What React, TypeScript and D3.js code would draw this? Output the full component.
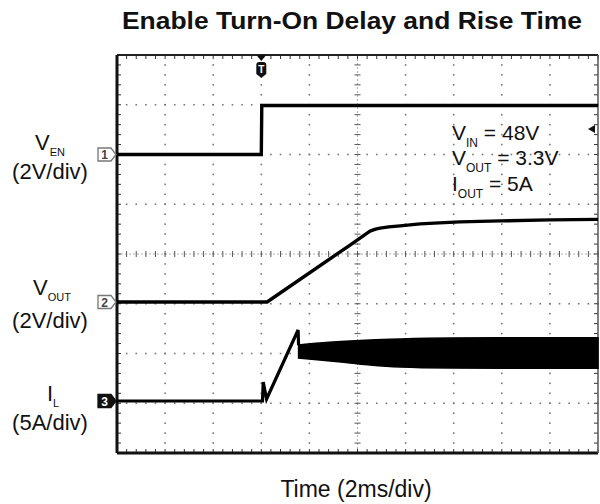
import React from 'react';
import * as d3 from 'd3';

// ---- data (time in ms, trigger at 0) ----
const venTime = [-6, 0, 0.02, 14];
const venVolts = [0, 0, 1.97, 1.97];

const voutTime = [-6, 0.24, 3.69, 4.52, 4.75, 4.94, 5.3, 5.77, 6.6, 7.4, 8.26, 9.93, 12.0, 14];
const voutVolts = [0, 0, 2.29, 2.85, 2.93, 2.97, 3.02, 3.06, 3.14, 3.18, 3.22, 3.26, 3.3, 3.32];

const ilTime = [-6, 0.05, 0.08, 0.22, 1.53, 1.55];
const ilAmps = [0, 0, 1.9, 0.2, 7.14, 5.6];

const bandTime = [1.55, 2.43, 3.69, 4.52, 5.77, 7.85, 10, 14];
const bandUpper = [5.63, 5.83, 6.03, 6.13, 6.23, 6.33, 6.35, 6.35];
const bandLower = [4.32, 4.12, 3.82, 3.62, 3.42, 3.32, 3.3, 3.3];

const channelNames = ['1', '2', '3'];
const channelOffsets = [2, -0.965, -2.955];
const channelScales = [2, 2, 5];

const labelMain = ['V', 'V', 'I'];
const labelSub = ['EN', 'OUT', 'L'];
const labelScale = ['(2V/div)', '(2V/div)', '(5A/div)'];

const insetMain = ['V', 'V', 'I'];
const insetSub = ['IN', 'OUT', 'OUT'];
const insetValue = [' = 48V', ' = 3.3V', ' = 5A'];

const titleText = 'Enable Turn-On Delay and Rise Time';
const xLabelText = 'Time (2ms/div)';

const timeDomain = [-6, 14];
const divDomain = [-4, 4];

export default function App() {
  const W = 600, H = 504;
  const left = 117, right = 598, top = 55, bottom = 453;
  const font = 'Liberation Sans, Arial, Helvetica, sans-serif';

  const x = d3.scaleLinear().domain(timeDomain).range([left, right]);
  const y = d3.scaleLinear().domain(divDomain).range([bottom, top]);
  const chY = (ch: number, v: number) => y(channelOffsets[ch] + v / channelScales[ch]);

  const xDivs = d3.range(-6, 14.001, 2);
  const yDivs = d3.range(-4, 4.001, 1);
  const xMinor = d3.range(-6, 14.001, 0.4);
  const yMinor = d3.range(-4, 4.001, 0.2);

  const line = d3.line<[number, number]>().x(d => d[0]).y(d => d[1]);
  const venPath = line(venTime.map((t, i) => [x(t), chY(0, venVolts[i])]));
  const voutPath = line(voutTime.map((t, i) => [x(t), chY(1, voutVolts[i])]));
  const ilPath = line(ilTime.map((t, i) => [x(t), chY(2, ilAmps[i])]));
  const bandPath = d3.area<number>()
    .x((t) => x(t))
    .y0((_, i) => chY(2, bandLower[i]))
    .y1((_, i) => chY(2, bandUpper[i]))
    .curve(d3.curveMonotoneX)(bandTime);

  const xc = x(4); // center vertical
  const yc = y(0); // center horizontal
  const tx = x(0);

  const gridDots: JSX.Element[] = [];
  yDivs.forEach((d, i) => {
    if (d === -4 || d === 4 || d === 0) return;
    xMinor.forEach((t, j) => {
      gridDots.push(<rect key={`h${i}-${j}`} x={x(t) - 0.8} y={y(d) - 0.8} width={1.6} height={1.6} fill="#777" />);
    });
  });
  xDivs.forEach((t, i) => {
    if (t === -6 || t === 14 || t === 4) return;
    yMinor.forEach((d, j) => {
      gridDots.push(<rect key={`v${i}-${j}`} x={x(t) - 0.8} y={y(d) - 0.8} width={1.6} height={1.6} fill="#777" />);
    });
  });

  const ticks: JSX.Element[] = [];
  xMinor.forEach((t, j) => {
    const px = x(t);
    ticks.push(<line key={`ct${j}`} x1={px} x2={px} y1={yc - 3} y2={yc + 3} stroke="#555" strokeWidth={1} />);
    ticks.push(<line key={`tt${j}`} x1={px} x2={px} y1={top} y2={top + 4} stroke="#333" strokeWidth={1} />);
    ticks.push(<line key={`bt${j}`} x1={px} x2={px} y1={bottom} y2={bottom - 4} stroke="#333" strokeWidth={1} />);
  });
  yMinor.forEach((d, j) => {
    const py = y(d);
    ticks.push(<line key={`cv${j}`} x1={xc - 3} x2={xc + 3} y1={py} y2={py} stroke="#555" strokeWidth={1} />);
    ticks.push(<line key={`lt${j}`} x1={left} x2={left + 4} y1={py} y2={py} stroke="#333" strokeWidth={1} />);
    ticks.push(<line key={`rt${j}`} x1={right} x2={right - 4} y1={py} y2={py} stroke="#333" strokeWidth={1} />);
  });

  const labelBaselines = [150, 295, 401];
  const scaleBaselines = [179, 328, 430];
  const labelCenters = [50, 52, 53];
  const insetBaselines = [140, 165, 191];

  const trigY = 129;

  return (
    <svg width={W} height={H} style={{ position: 'absolute', left: 0, top: 0, background: '#fff' }}
      fontFamily={font}>
      <rect x={0} y={0} width={W} height={H} fill="#fff" />
      <text x={352} y={29} textAnchor="middle" fontWeight="bold" fontSize={23}
        textLength={460} lengthAdjust="spacingAndGlyphs" fill="#111">{titleText}</text>

      {gridDots}
      <line x1={left} x2={right} y1={yc} y2={yc} stroke="#999" strokeWidth={0.8} strokeDasharray="2,2" />
      <line x1={xc} x2={xc} y1={top} y2={bottom} stroke="#999" strokeWidth={0.8} strokeDasharray="2,2" />
      {ticks}

      {/* borders */}
      <line x1={left} x2={right} y1={top} y2={top} stroke="#222" strokeWidth={2} />
      <line x1={left} x2={right} y1={bottom} y2={bottom} stroke="#111" strokeWidth={3} />
      <line x1={left} x2={left} y1={top} y2={bottom} stroke="#111" strokeWidth={3} />
      <line x1={right} x2={right} y1={top} y2={bottom} stroke="#555" strokeWidth={1.5} />

      {/* traces */}
      <path d={venPath || ''} fill="none" stroke="#000" strokeWidth={3.4} />
      <path d={voutPath || ''} fill="none" stroke="#000" strokeWidth={3.4} strokeLinejoin="round" />
      <path d={bandPath || ''} fill="#000" stroke="#000" strokeWidth={1.5} />
      <path d={ilPath || ''} fill="none" stroke="#000" strokeWidth={3.2} strokeLinejoin="miter" />

      {/* channel markers */}
      {channelNames.map((n, i) => {
        const cy = chY(i, 0);
        const filled = i === 2;
        return (
          <g key={`m${n}`}>
            <path d={`M98,${cy - 6.5} L111,${cy - 6.5} L116,${cy} L111,${cy + 6.5} L98,${cy + 6.5} Z`}
              fill={filled ? '#111' : '#fff'} stroke={filled ? '#111' : '#777'} strokeWidth={1.3} />
            <text x={104.5} y={cy + 4.5} textAnchor="middle" fontSize={12} fontWeight="bold"
              fill={filled ? '#fff' : '#444'}>{n}</text>
          </g>
        );
      })}

      {/* trigger marker */}
      <path d={`M${tx - 5},${top} L${tx + 5},${top} L${tx},${top + 6} Z`} fill="#111" />
      <path d={`M${tx - 5},${top + 10} Q${tx - 5},${top + 7} ${tx - 2},${top + 7} L${tx + 2},${top + 7} Q${tx + 5},${top + 7} ${tx + 5},${top + 10} L${tx + 5},${top + 19} L${tx},${top + 23} L${tx - 5},${top + 19} Z`} fill="#111" />
      <text x={tx} y={top + 18} textAnchor="middle" fontSize={10} fontWeight="bold" fill="#fff">T</text>

      {/* trigger level marker */}
      <path d={`M588,${trigY} L595,${trigY - 4} L595,${trigY + 4} Z`} fill="#111" />

      {/* left labels */}
      {labelMain.map((m, i) => (
        <g key={`l${i}`} fill="#111">
          <text x={labelCenters[i]} y={labelBaselines[i]} textAnchor="middle" fontSize={22}>
            {m}<tspan fontSize={11} dy={6}>{labelSub[i]}</tspan>
          </text>
          <text x={50} y={scaleBaselines[i]} textAnchor="middle" fontSize={22}>{labelScale[i]}</text>
        </g>
      ))}

      {/* inset */}
      {insetMain.map((m, i) => (
        <text key={`in${i}`} x={452} y={insetBaselines[i]} fontSize={21} fill="#111">
          {m}<tspan fontSize={12} dy={7}>{insetSub[i]}</tspan><tspan dy={-7}>{insetValue[i]}</tspan>
        </text>
      ))}

      <text x={356} y={497} textAnchor="middle" fontSize={23} fill="#111">{xLabelText}</text>
    </svg>
  );
}
